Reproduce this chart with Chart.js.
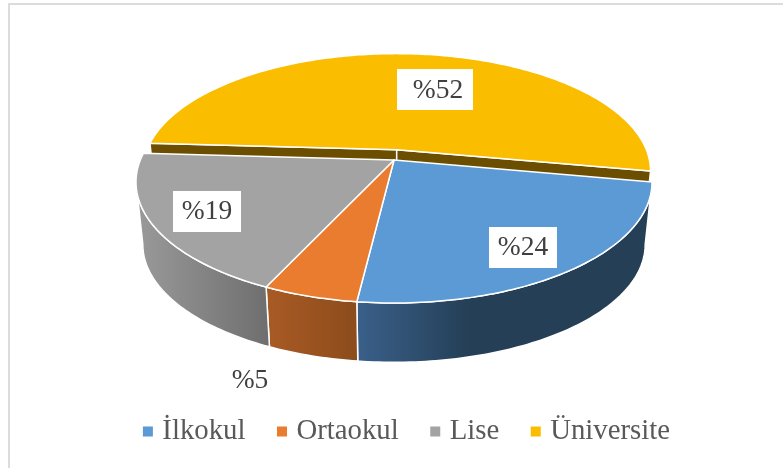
<!DOCTYPE html>
<html>
<head>
<meta charset="utf-8">
<script src="https://cdn.jsdelivr.net/npm/chart.js@4"></script>
<style>
  html, body { margin: 0; padding: 0; background: #fff; overflow: hidden; }
  #frame { position: absolute; left: 8px; top: 3px; width: 790px; height: 480px; border-top: 2px solid #dcdcdc; border-left: 2px solid #dcdcdc; }
  #wrap { position: absolute; left: 0; top: 0; width: 783px; height: 468px; }
</style>
</head>
<body>
<div id="frame"></div>
<div id="wrap"><canvas id="chart"></canvas></div>
<script>
// Chart data
const categories = ["İlkokul", "Ortaokul", "Lise", "Üniversite"];
const values = [24, 5, 19, 52];
const valueLabels = ["%24", "%5", "%19", "%52"];
const explode = [0, 0, 0, 9];

// Colours
const topColors = ["#5b9ad5", "#ea7c30", "#a3a3a3", "#fbbd00"];
const wallColors = [
  ["#3a608a", "#243f56", 357, 470],
  ["#a85a24", "#8c4c1c", 269, 357],
  ["#9a9a9a", "#6e6e6e", 136, 270],
  ["#6b4e00", "#6b4e00", 0, 783],
];

// Label placement: text centre, then the white box behind it
const labelCenters = [
  [523, 247],
  [250, 380],
  [207, 211],
  [438, 90],
];
const labelBoxes = [
  [489, 227, 68, 41],
  [216, 360, 68, 41],
  [173, 191, 68, 41],
  [397, 69, 76, 41],
];

// Tilted disc seen in perspective
const centerX = 394;
const perspective = 0.1818;
const topDisc = { y: 160, rx: 253.7, ry: 117 };
const bottomDisc = { y: 223, rx: 247, ry: 114 };
// the wall outline turns away from the viewer past these angles
const wallFrom = Math.asin(perspective);
const wallTo = Math.PI - wallFrom;

function project(disc, u, v) {
  const s = 1 / (1 - perspective * v);
  return [centerX + disc.rx * u * s, disc.y + disc.ry * v * s];
}

function rimPoints(disc, start, end, du, dv) {
  const pts = [];
  const steps = Math.ceil(((end - start) * 180) / Math.PI);
  for (let i = 0; i <= steps; i++) {
    const a = start + ((end - start) * i) / steps;
    pts.push(project(disc, Math.cos(a) + du, Math.sin(a) + dv));
  }
  return pts;
}

function fillPath(ctx, pts, fill, lineWidth) {
  ctx.beginPath();
  pts.forEach((p, i) => (i ? ctx.lineTo(p[0], p[1]) : ctx.moveTo(p[0], p[1])));
  ctx.closePath();
  ctx.fillStyle = fill;
  ctx.fill();
  ctx.strokeStyle = "#fff";
  ctx.lineWidth = lineWidth;
  ctx.lineJoin = "round";
  ctx.stroke();
}

function wallFill(ctx, index) {
  const w = wallColors[index];
  const g = ctx.createLinearGradient(w[2], 0, w[3], 0);
  g.addColorStop(0, w[0]);
  g.addColorStop(1, w[1]);
  return g;
}

// Draws the arcs of the pie meta as a 3D disc
const pie3d = {
  id: "pie3d",
  beforeDatasetDraw(chart, args) {
    const ctx = chart.ctx;
    const arcs = args.meta.data.map((arc, i) => {
      const mid = (arc.startAngle + arc.endAngle) / 2;
      const shift = explode[i] / 100;
      return { i, start: arc.startAngle, end: arc.endAngle, du: shift * Math.cos(mid), dv: shift * Math.sin(mid) };
    });

    // cut faces of the pulled out slice, they sit behind everything else
    arcs.filter((a) => explode[a.i] > 0).forEach((a) => {
      [a.start, a.end].forEach((angle) => {
        const face = [
          project(topDisc, a.du, a.dv),
          project(topDisc, Math.cos(angle) + a.du, Math.sin(angle) + a.dv),
          project(bottomDisc, Math.cos(angle) + a.du, Math.sin(angle) + a.dv),
          project(bottomDisc, a.du, a.dv),
        ];
        fillPath(ctx, face, wallFill(ctx, a.i), 1.5);
      });
    });

    // outer walls
    arcs.filter((a) => explode[a.i] === 0).forEach((a) => {
      const start = Math.max(a.start, wallFrom);
      const end = Math.min(a.end, wallTo);
      const upper = rimPoints(topDisc, start, end, a.du, a.dv);
      const lower = rimPoints(bottomDisc, start, end, a.du, a.dv).reverse();
      fillPath(ctx, upper.concat(lower), wallFill(ctx, a.i), 1.5);
    });

    // top faces
    arcs.forEach((a) => {
      const rim = rimPoints(topDisc, a.start, a.end, a.du, a.dv);
      rim.unshift(project(topDisc, a.du, a.dv));
      fillPath(ctx, rim, topColors[a.i], 1.5);
    });
    return false;
  },
  afterDraw(chart) {
    const ctx = chart.ctx;
    ctx.font = "27.5px 'Liberation Serif'";
    ctx.textAlign = "center";
    ctx.textBaseline = "middle";
    valueLabels.forEach((text, i) => {
      const c = labelCenters[i];
      const b = labelBoxes[i];
      ctx.fillStyle = "#fff";
      ctx.fillRect(b[0], b[1], b[2], b[3]);
      ctx.fillStyle = "#404040";
      ctx.fillText(text, c[0], c[1] + 1);
    });
  },
};

new Chart(document.getElementById("chart"), {
  type: "pie",
  data: {
    labels: categories,
    datasets: [{ data: values, backgroundColor: topColors, borderWidth: 0 }],
  },
  plugins: [pie3d],
  options: {
    responsive: true,
    maintainAspectRatio: false,
    animation: false,
    rotation: 100.5,
    layout: { padding: { left: 35, bottom: 12 } },
    plugins: {
      tooltip: { enabled: false },
      legend: {
        position: "bottom",
        labels: {
          usePointStyle: true,
          pointStyle: "rect",
          boxWidth: 0.01,
          boxHeight: 10,
          padding: 36.5,
          color: "#595959",
          font: { family: "'Liberation Serif'", size: 28.8 },
        },
      },
    },
  },
});
</script>
</body>
</html>
